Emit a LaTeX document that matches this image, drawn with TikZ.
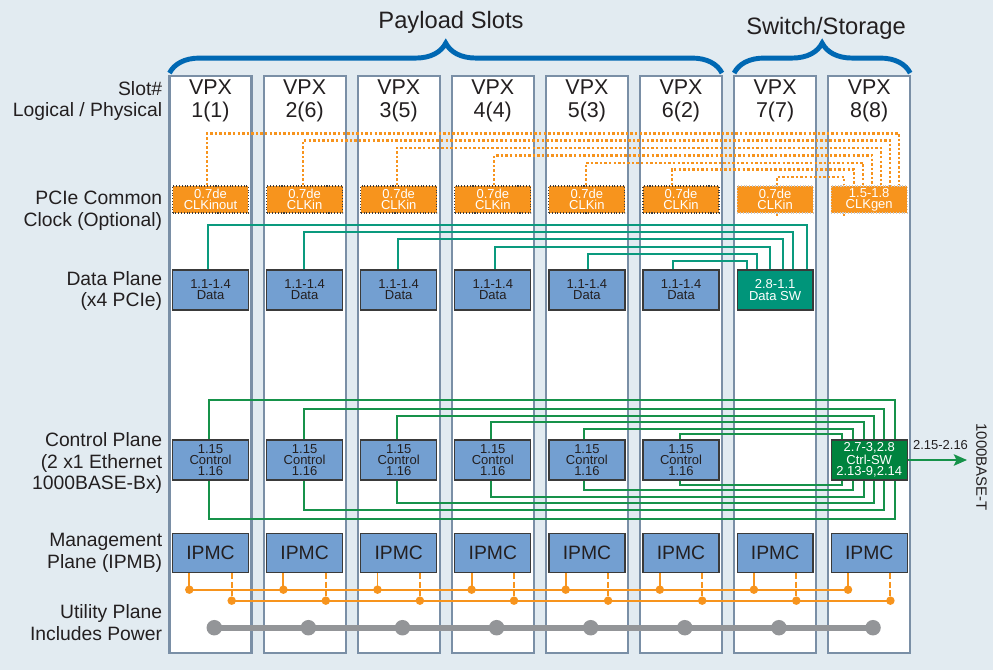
\documentclass[tikz,border=0pt]{standalone}
\usepackage{fontspec}
\setmainfont{Liberation Sans}
\usetikzlibrary{arrows.meta,calc,decorations.pathreplacing}

\definecolor{bgc}{HTML}{E2EBF1}
\definecolor{slotc}{HTML}{7A8FA6}
\definecolor{clko}{HTML}{F7941D}
\definecolor{boxb}{HTML}{739FD1}
\definecolor{boxl}{HTML}{3A3A3A}
\definecolor{dsw}{HTML}{00957A}
\definecolor{datal}{HTML}{0A9A7E}
\definecolor{ctrll}{HTML}{16924A}
\definecolor{cswc}{HTML}{00833E}
\definecolor{bracec}{HTML}{0068B3}
\definecolor{gryc}{HTML}{939598}
\definecolor{textc}{HTML}{231F20}
\definecolor{litel}{HTML}{C8C8C8}

\begin{document}
\begin{tikzpicture}[x=0.02cm,y=-0.02cm]

\tikzstyle{slot}=[draw=slotc,fill=white,line width=1.2pt,minimum width=1.64cm,minimum height=11.54cm,inner sep=0pt,outer sep=0pt]
\tikzstyle{vpx}=[align=center,text=textc,inner sep=0pt,font=\fontsize{12.2}{13.2}\selectfont]
\tikzstyle{head}=[anchor=base,text=textc,inner sep=0pt,font=\fontsize{13.5}{15}\selectfont]
\tikzstyle{lbl}=[anchor=east,align=right,text=textc,inner sep=0pt,font=\fontsize{11}{12.5}\selectfont]
\tikzstyle{small}=[text=textc,inner sep=0pt,font=\fontsize{7.4}{8}\selectfont]
\tikzstyle{clkbox}=[fill=clko,draw=boxl,densely dotted,line width=0.6pt,text=white,minimum width=1.52cm,minimum height=0.54cm,inner sep=0pt,align=center,font=\fontsize{7.4}{6.3}\selectfont]
\tikzstyle{databox}=[fill=boxb,draw=boxl,line width=0.7pt,text=textc,minimum width=1.52cm,minimum height=0.8cm,inner sep=0pt,align=center,font=\fontsize{7.4}{6.3}\selectfont]
\tikzstyle{swbox}=[databox,fill=dsw,text=white]
\tikzstyle{cswbox}=[databox,fill=cswc,text=white]
\tikzstyle{ipmc}=[databox,minimum height=0.79cm,font=\fontsize{11}{13}\selectfont]
\tikzstyle{brc}=[draw=bracec,line width=2.8pt,decorate,decoration={brace,amplitude=0.6cm}]
\tikzstyle{clk}=[draw=clko,line width=1.3pt,dash pattern=on 1.4pt off 1.2pt]
\tikzstyle{dline}=[draw=datal,line width=1.1pt]
\tikzstyle{cline}=[draw=ctrll,line width=1.1pt]
\tikzstyle{ipmb}=[draw=clko,line width=1.1pt]
\tikzstyle{ipmbd}=[ipmb,dash pattern=on 3.3pt off 1.5pt]
\tikzstyle{util}=[draw=gryc,line width=3.4pt]

\fill[bgc] (0,0) rectangle (993,670);
\useasboundingbox (0,0) rectangle (993,670);

\node[slot] (s1) at (210.5,364.5) {};
\node[slot] (s2) at (304.6,364.5) {};
\node[slot] (s3) at (398.7,364.5) {};
\node[slot] (s4) at (492.8,364.5) {};
\node[slot] (s5) at (586.9,364.5) {};
\node[slot] (s6) at (681.0,364.5) {};
\node[slot] (s7) at (775.1,364.5) {};
\node[slot] (s8) at (869.2,364.5) {};

\draw[brc] ($(s1.north west)+(0,-3)$) -- ($(s6.north east)+(0,-3)$);
\draw[brc] ($(s7.north west)+(0,-3)$) -- ($(s8.north east)+(0,-3)$);
\node[head] (hpay) at (451,28.3) {Payload Slots};
\node[head] (hsw) at (826,34.3) {Switch/Storage};

\node[vpx] (v1) at (210.5,101) {VPX\\1(1)};
\node[vpx] (v2) at (304.6,101) {VPX\\2(6)};
\node[vpx] (v3) at (398.7,101) {VPX\\3(5)};
\node[vpx] (v4) at (492.8,101) {VPX\\4(4)};
\node[vpx] (v5) at (586.9,101) {VPX\\5(3)};
\node[vpx] (v6) at (681.0,101) {VPX\\6(2)};
\node[vpx] (v7) at (775.1,101) {VPX\\7(7)};
\node[vpx] (v8) at (869.2,101) {VPX\\8(8)};

\node[lbl] (lslot) at (162.5,101) {Slot\#\\Logical / Physical};
\node[lbl] (lclk) at (162.5,211) {PCIe Common\\Clock (Optional)};
\node[lbl] (ldata) at (162.5,291) {Data Plane\\(x4 PCIe)};
\node[lbl] (lctrl) at (162.5,463) {Control Plane\\(2 x1 Ethernet\\1000BASE-Bx)};
\node[lbl] (lmgmt) at (162.5,553) {Management\\Plane (IPMB)};
\node[lbl] (lutil) at (162.5,623) {Utility Plane\\Includes Power};

\node[clkbox] (c1) at (210.5,199.5) {0.7de\\CLKinout};
\node[clkbox] (c2) at (304.6,199.5) {0.7de\\CLKin};
\node[clkbox] (c3) at (398.7,199.5) {0.7de\\CLKin};
\node[clkbox] (c4) at (492.8,199.5) {0.7de\\CLKin};
\node[clkbox] (c5) at (586.9,199.5) {0.7de\\CLKin};
\node[clkbox] (c6) at (681.0,199.5) {0.7de\\CLKin};
\node[clkbox,draw=litel] (c7) at (775.1,199.5) {0.7de\\CLKin};
\node[clkbox,draw=litel] (c8) at (869.2,199.5) {1.5-1.8\\CLKgen};

\draw[clk] ($(c1.north)+(-3.2,0)$) -- ++(0,-52) -| ($(c8.north)+(30.1,0)$);
\draw[clk] ($(c2.north)+(-1.3,0)$) -- ++(0,-45) -| ($(c8.north)+(20.8,0)$);
\draw[clk] ($(c3.north)+(-2,0)$) -- ++(0,-37.7) -| ($(c8.north)+(11.5,0)$);
\draw[clk] ($(c4.north)+(1.5,0)$) -- ++(0,-30) -| ($(c8.north)+(3.1,0)$);
\draw[clk] ($(c5.north)+(-0.9,0)$) -- ++(0,-22.7) -| ($(c8.north)+(-5.9,0)$);
\draw[clk] ($(c6.north)+(-9.3,0)$) -- ++(0,-16) -| ($(c8.north)+(-15.2,0)$);
\draw[clk] ($(c7.north)+(1.6,0)$) -- ++(0,-8.3) -| ($(c8.north)+(-24.9,0)$);
\draw[clk] ($(c7.south)+(1.6,0)$) -- ++(0,3);
\draw[clk] ($(c8.south)+(-24.9,0)$) -- ++(0,3);

\node[databox] (d1) at (210.5,290) {1.1-1.4\\Data};
\node[databox] (d2) at (304.6,290) {1.1-1.4\\Data};
\node[databox] (d3) at (398.7,290) {1.1-1.4\\Data};
\node[databox] (d4) at (492.8,290) {1.1-1.4\\Data};
\node[databox] (d5) at (586.9,290) {1.1-1.4\\Data};
\node[databox] (d6) at (681.0,290) {1.1-1.4\\Data};
\node[swbox] (d7) at (775.1,290) {2.8-1.1\\Data SW};

\draw[dline] ($(d1.north)+(-2.2,0)$) -- ++(0,-44) -| ($(d7.north)+(32.2,0)$);
\draw[dline] ($(d2.north)+(-0.3,0)$) -- ++(0,-37.3) -| ($(d7.north)+(18.2,0)$);
\draw[dline] ($(d3.north)+(-1,0)$) -- ++(0,-30) -| ($(d7.north)+(8.2,0)$);
\draw[dline] ($(d4.north)+(2.2,0)$) -- ++(0,-22.7) -| ($(d7.north)+(-5.1,0)$);
\draw[dline] ($(d5.north)+(0.8,0)$) -- ++(0,-15) -| ($(d7.north)+(-17.8,0)$);
\draw[dline] ($(d6.north)+(-7.7,0)$) -- ++(0,-8.3) -| ($(d7.north)+(-28.4,0)$);

\node[databox] (n1) at (210.5,460) {1.15\\Control\\1.16};
\node[databox] (n2) at (304.6,460) {1.15\\Control\\1.16};
\node[databox] (n3) at (398.7,460) {1.15\\Control\\1.16};
\node[databox] (n4) at (492.8,460) {1.15\\Control\\1.16};
\node[databox] (n5) at (586.9,460) {1.15\\Control\\1.16};
\node[databox] (n6) at (681.0,460) {1.15\\Control\\1.16};
\node[cswbox] (n8) at (869.2,460) {2.7-3,2.8\\Ctrl-SW\\2.13-9,2.14};

\draw[cline] ($(n1.north)+(-1.2,0)$) -- ++(0,-39) -| ($(n8.north)+(25.8,0)$);
\draw[cline] ($(n2.north)+(-0.6,0)$) -- ++(0,-30) -| ($(n8.north)+(15.1,0)$);
\draw[cline] ($(n3.north)+(-1.4,0)$) -- ++(0,-23.3) -| ($(n8.north)+(5.1,0)$);
\draw[cline] ($(n4.north)+(-1.8,0)$) -- ++(0,-17.3) -| ($(n8.north)+(-5.2,0)$);
\draw[cline] ($(n5.north)+(-2.9,0)$) -- ++(0,-10.7) -| ($(n8.north)+(-16.5,0)$);
\draw[cline] ($(n6.north)+(-1,0)$) -- ++(0,-5) -| ($(n8.north)+(-27.5,0)$);
\draw[cline] ($(n1.south)+(-1.2,0)$) -- ++(0,38.3) -| ($(n8.south)+(25.8,0)$);
\draw[cline] ($(n2.south)+(-0.6,0)$) -- ++(0,29.3) -| ($(n8.south)+(15.1,0)$);
\draw[cline] ($(n3.south)+(-1.4,0)$) -- ++(0,22.7) -| ($(n8.south)+(5.1,0)$);
\draw[cline] ($(n4.south)+(-1.8,0)$) -- ++(0,16.7) -| ($(n8.south)+(-5.2,0)$);
\draw[cline] ($(n5.south)+(-2.9,0)$) -- ++(0,9.3) -| ($(n8.south)+(-16.5,0)$);
\draw[cline] ($(n6.south)+(-1,0)$) -- ++(0,4) -| ($(n8.south)+(-27.5,0)$);

\node[shape=coordinate] (eth) at (967,460) {};
\draw[cline,-{Stealth[length=7.5pt,width=6.5pt,inset=1.5pt]}] (n8.east) -- (eth);
\node[small] (ethp) at (940.5,445) {2.15-2.16};
\node[small,rotate=-90,font=\fontsize{8.5}{9}\selectfont] (etht) at (981.5,467) {1000BASE-T};

\node[ipmc] (i1) at (210.5,553) {IPMC};
\node[ipmc] (i2) at (304.6,553) {IPMC};
\node[ipmc] (i3) at (398.7,553) {IPMC};
\node[ipmc] (i4) at (492.8,553) {IPMC};
\node[ipmc] (i5) at (586.9,553) {IPMC};
\node[ipmc] (i6) at (681.0,553) {IPMC};
\node[ipmc] (i7) at (775.1,553) {IPMC};
\node[ipmc] (i8) at (869.2,553) {IPMC};

\node[shape=coordinate] (a1) at ($(i1.south)+(-21.2,16.3)$) {};
\node[shape=coordinate] (a2) at ($(i2.south)+(-21.2,16.3)$) {};
\node[shape=coordinate] (a3) at ($(i3.south)+(-21.2,16.3)$) {};
\node[shape=coordinate] (a4) at ($(i4.south)+(-21.2,16.3)$) {};
\node[shape=coordinate] (a5) at ($(i5.south)+(-21.2,16.3)$) {};
\node[shape=coordinate] (a6) at ($(i6.south)+(-21.2,16.3)$) {};
\node[shape=coordinate] (a7) at ($(i7.south)+(-21.2,16.3)$) {};
\node[shape=coordinate] (a8) at ($(i8.south)+(-21.2,16.3)$) {};
\node[shape=coordinate] (b1) at ($(i1.south)+(21.2,27.3)$) {};
\node[shape=coordinate] (b2) at ($(i2.south)+(21.2,27.3)$) {};
\node[shape=coordinate] (b3) at ($(i3.south)+(21.2,27.3)$) {};
\node[shape=coordinate] (b4) at ($(i4.south)+(21.2,27.3)$) {};
\node[shape=coordinate] (b5) at ($(i5.south)+(21.2,27.3)$) {};
\node[shape=coordinate] (b6) at ($(i6.south)+(21.2,27.3)$) {};
\node[shape=coordinate] (b7) at ($(i7.south)+(21.2,27.3)$) {};
\node[shape=coordinate] (b8) at ($(i8.south)+(21.2,27.3)$) {};

\draw[ipmb] (i1.south -| a1) -- (a1);
\draw[ipmb] (i2.south -| a2) -- (a2);
\draw[ipmb] (i3.south -| a3) -- (a3);
\draw[ipmb] (i4.south -| a4) -- (a4);
\draw[ipmb] (i5.south -| a5) -- (a5);
\draw[ipmb] (i6.south -| a6) -- (a6);
\draw[ipmb] (i7.south -| a7) -- (a7);
\draw[ipmb] (i8.south -| a8) -- (a8);
\draw[ipmbd] (i1.south -| b1) -- (b1);
\draw[ipmbd] (i2.south -| b2) -- (b2);
\draw[ipmbd] (i3.south -| b3) -- (b3);
\draw[ipmbd] (i4.south -| b4) -- (b4);
\draw[ipmbd] (i5.south -| b5) -- (b5);
\draw[ipmbd] (i6.south -| b6) -- (b6);
\draw[ipmbd] (i7.south -| b7) -- (b7);
\draw[ipmbd] (i8.south -| b8) -- (b8);
\draw[ipmb] (a1) -- (a8);
\draw[ipmb] (b1) -- (b8);
\fill[clko] (a1) circle (0.085cm) (a2) circle (0.085cm) (a3) circle (0.085cm) (a4) circle (0.085cm)
  (a5) circle (0.085cm) (a6) circle (0.085cm) (a7) circle (0.085cm) (a8) circle (0.085cm);
\fill[clko] (b1) circle (0.085cm) (b2) circle (0.085cm) (b3) circle (0.085cm) (b4) circle (0.085cm)
  (b5) circle (0.085cm) (b6) circle (0.085cm) (b7) circle (0.085cm) (b8) circle (0.085cm);

\node[shape=coordinate] (u1) at (214.3,627.7) {};
\node[shape=coordinate] (u2) at (308.4,627.7) {};
\node[shape=coordinate] (u3) at (402.5,627.7) {};
\node[shape=coordinate] (u4) at (496.6,627.7) {};
\node[shape=coordinate] (u5) at (590.7,627.7) {};
\node[shape=coordinate] (u6) at (684.8,627.7) {};
\node[shape=coordinate] (u7) at (778.9,627.7) {};
\node[shape=coordinate] (u8) at (873.0,627.7) {};

\draw[util] (u1) -- (u8);
\fill[gryc] (u1) circle (0.155cm) (u2) circle (0.155cm) (u3) circle (0.155cm) (u4) circle (0.155cm)
  (u5) circle (0.155cm) (u6) circle (0.155cm) (u7) circle (0.155cm) (u8) circle (0.155cm);

\end{tikzpicture}
\end{document}
